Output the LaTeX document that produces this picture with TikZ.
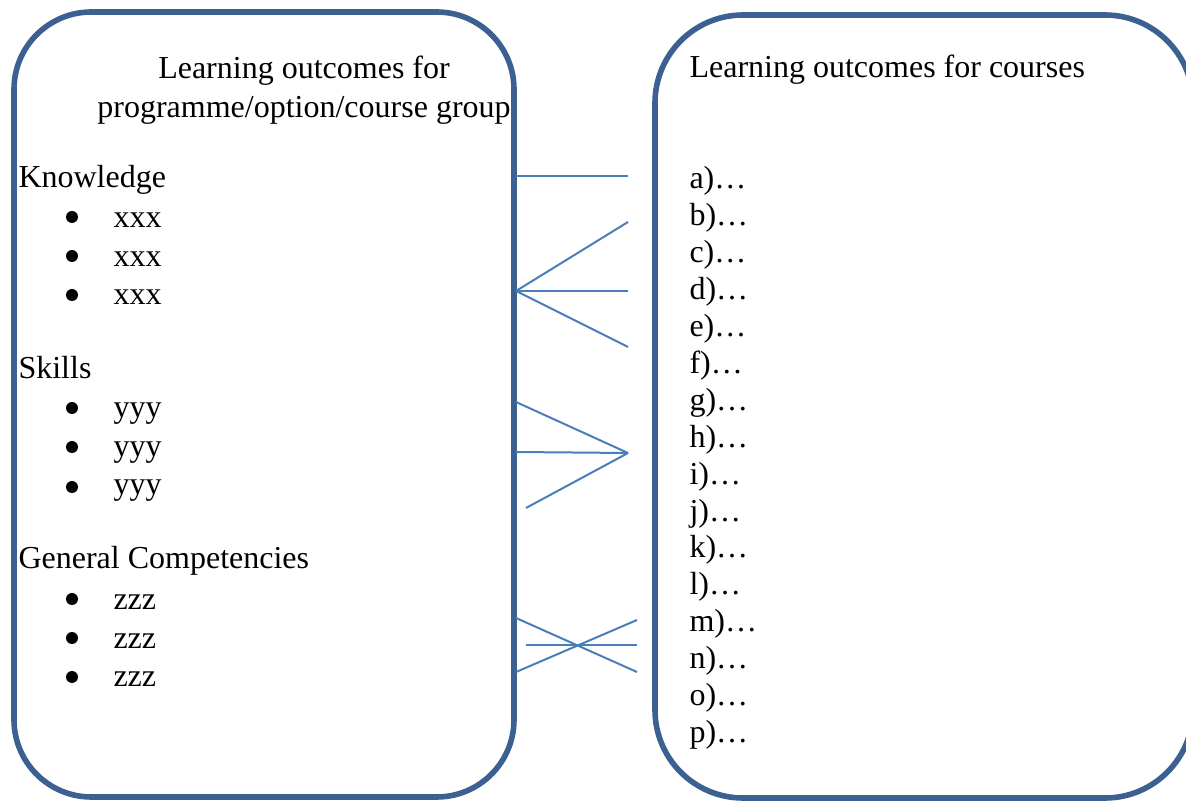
\documentclass[tikz,border=0pt]{standalone}
\usepackage{fontspec}
\setmainfont{Liberation Serif}
\definecolor{boxblue}{RGB}{60,96,145}
\definecolor{lineblue}{RGB}{74,126,187}
\begin{document}
\begin{tikzpicture}[x=0.375pt,y=-0.375pt,
  leftbox/.style={draw=boxblue,line width=2.1pt,rounded corners=29pt},
  rightbox/.style={draw=boxblue,line width=2.1pt,rounded corners=33pt},
  txt/.style={anchor=base west,inner sep=0pt,font=\fontsize{12}{14}\selectfont},
  head/.style={anchor=base,inner sep=0pt,font=\fontsize{12}{14}\selectfont},
  bul/.style={circle,fill=black,inner sep=0pt,minimum size=4.5pt},
  link/.style={draw=lineblue,line width=0.75pt}]
\useasboundingbox (0,0) rectangle (1186,801);
\clip (0,0) rectangle (1186,801);
% boxes
\draw[leftbox] (14,12) rectangle (514,797);
\draw[rightbox] (655,15) rectangle (1193,798);
% left header
\node[head] (lh1) at (304,79) {Learning outcomes for};
\node[head] (lh2) at (304,118) {programme/option/course group};
% right header
\node[txt] (rh) at (689,78) {Learning outcomes for courses};
% left categories
\node[txt] (know) at (18,188) {Knowledge};
\node[txt] (skills) at (18,379) {Skills};
\node[txt] (gen) at (18,569) {General Competencies};
% bullets and items
\foreach \b/\t/\name in {217/228/k1,256/267/k2,295/305/k3}{
  \node[bul] (b\name) at (72,\b) {};
  \node[txt] (\name) at (113,\t) {xxx};
}
\foreach \b/\t/\name in {408/418/s1,447/457/s2,487/495/s3}{
  \node[bul] (b\name) at (72,\b) {};
  \node[txt] (\name) at (113,\t) {yyy};
}
\foreach \b/\t/\name in {599/610/g1,638/649/g2,677/687/g3}{
  \node[bul] (b\name) at (72,\b) {};
  \node[txt] (\name) at (113,\t) {zzz};
}
% right list
\foreach \l [count=\i from 0] in {a,b,c,d,e,f,g,h,i,j,k,l,m,n,o,p}{
  \node[txt] (r\l) at (689,{189+36.9*\i}) {\l)…};
}
% connector end points
\coordinate (pa) at (516,176);
\coordinate (qa) at (628,176);
\coordinate (pb) at (516,291);
\coordinate (qb1) at (628,222);
\coordinate (qb2) at (628,291);
\coordinate (qb3) at (628,347);
\coordinate (pc1) at (516,402);
\coordinate (pc2) at (516,452);
\coordinate (pc3) at (526,508);
\coordinate (qc) at (628,453);
\coordinate (pd1) at (516,618);
\coordinate (qd1) at (637,672);
\coordinate (pd2) at (526,645);
\coordinate (qd2) at (637,645);
\coordinate (pd3) at (516,672);
\coordinate (qd3) at (637,620);
% connectors
\draw[link] (pa) -- (qa);
\draw[link] (pb) -- (qb1);
\draw[link] (pb) -- (qb2);
\draw[link] (pb) -- (qb3);
\draw[link] (pc1) -- (qc);
\draw[link] (pc2) -- (qc);
\draw[link] (pc3) -- (qc);
\draw[link] (pd1) -- (qd1);
\draw[link] (pd2) -- (qd2);
\draw[link] (pd3) -- (qd3);
\end{tikzpicture}
\end{document}
